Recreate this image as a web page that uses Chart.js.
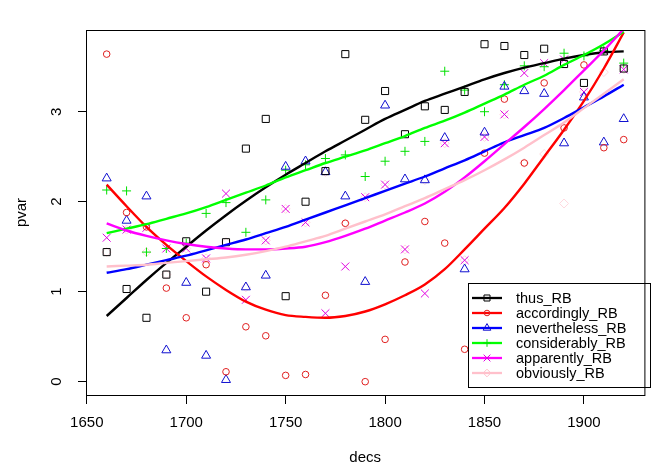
<!DOCTYPE html>
<html>
<head>
<meta charset="utf-8">
<title>pvar by decs</title>
<script src="https://cdn.jsdelivr.net/npm/chart.js@4.4.1/dist/chart.umd.min.js"></script>
<style>
    html, body { margin: 0; padding: 0; background: #ffffff; }
    #wrap { width: 651px; height: 465px; }
</style>
</head>
<body>
<div id="wrap"><canvas id="pvarChart" width="651" height="465"></canvas></div>
<script>
// Decades on the x axis
const decs = [1660, 1670, 1680, 1690, 1700, 1710, 1720, 1730, 1740, 1750, 1760, 1770, 1780, 1790,
              1800, 1810, 1820, 1830, 1840, 1850, 1860, 1870, 1880, 1890, 1900, 1910, 1920];

// Observed values (points)
const thusPts          = [1.44, 1.03, 0.71, 1.19, 1.56, 1.00, 1.55, 2.59, 2.92, 0.95, 2.00, 2.34, 3.64, 2.91,
                          3.23, 2.75, 3.06, 3.02, 3.22, 3.75, 3.73, 3.63, 3.70, 3.53, 3.32, 3.67, 3.48];
const accordinglyPts   = [3.64, 1.88, 1.72, 1.04, 0.71, 1.30, 0.11, 0.61, 0.51, 0.07, 0.08, 0.96, 1.76, 0.00,
                          0.47, 1.33, 1.78, 1.54, 0.36, 2.54, 3.14, 2.43, 3.32, 2.82, 3.52, 2.60, 2.69];
const neverthelessPts  = [2.26, 1.79, 2.06, 0.35, 1.10, 0.29, 0.02, 1.05, 1.18, 2.39, 2.45, 2.33, 2.06, 1.11,
                          3.07, 2.25, 2.24, 2.71, 1.25, 2.77, 3.28, 3.23, 3.20, 2.65, 3.16, 2.66, 2.92];
const considerablyPts  = [2.13, 2.12, 1.44, 1.48, 1.54, 1.87, 1.99, 1.66, 2.02, 2.35, 2.41, 2.48, 2.52, 2.28,
                          2.45, 2.56, 2.67, 3.45, 3.24, 3.00, 3.30, 3.51, 3.50, 3.65, 3.62, 3.68, 3.54];
const apparentlyPts    = [1.60, 1.69, 1.71, 1.48, 1.48, 1.37, 2.09, 0.91, 1.57, 1.92, 1.77, 0.76, 1.28, 2.05,
                          2.19, 1.47, 0.98, 2.65, 1.35, 2.72, 2.97, 3.43, 3.54, 3.58, 3.22, 3.68, 3.47];
const obviouslyPts     = [1.44, 1.69, 1.44, 1.19, 1.48, 1.37, 1.55, 1.05, 1.57, 1.92, 1.77, 2.33, 1.76, 2.05,
                          2.19, 1.47, 2.24, 2.65, 1.35, 2.72, 2.97, 2.43, 2.53, 1.98, 3.22, 3.44, 3.47];

// Smoothed curves (lowess) at each decade
const thusFit          = [0.73, 0.93, 1.13, 1.32, 1.50, 1.68, 1.85, 2.01, 2.16, 2.30, 2.43, 2.56, 2.68, 2.80,
                          2.92, 3.02, 3.12, 3.20, 3.28, 3.36, 3.43, 3.49, 3.54, 3.59, 3.63, 3.66, 3.67];
const accordinglyFit   = [2.19, 1.95, 1.72, 1.52, 1.34, 1.17, 1.02, 0.89, 0.80, 0.74, 0.72, 0.71, 0.73, 0.78,
                          0.86, 0.96, 1.08, 1.25, 1.47, 1.70, 1.93, 2.20, 2.50, 2.80, 3.12, 3.48, 3.88];
const neverthelessFit  = [1.21, 1.25, 1.30, 1.35, 1.40, 1.46, 1.52, 1.58, 1.65, 1.72, 1.80, 1.88, 1.96, 2.04,
                          2.12, 2.20, 2.28, 2.37, 2.46, 2.56, 2.66, 2.74, 2.82, 2.93, 3.05, 3.17, 3.30];
const considerablyFit  = [1.65, 1.70, 1.75, 1.81, 1.87, 1.94, 2.02, 2.10, 2.18, 2.27, 2.35, 2.43, 2.50, 2.57,
                          2.65, 2.73, 2.82, 2.90, 2.99, 3.09, 3.19, 3.30, 3.40, 3.52, 3.63, 3.75, 3.89];
const apparentlyFit    = [1.76, 1.68, 1.62, 1.57, 1.53, 1.50, 1.48, 1.47, 1.47, 1.48, 1.50, 1.55, 1.62, 1.70,
                          1.79, 1.88, 1.98, 2.11, 2.27, 2.45, 2.64, 2.83, 3.03, 3.24, 3.46, 3.68, 3.92];
const obviouslyFit     = [1.28, 1.29, 1.30, 1.32, 1.34, 1.36, 1.38, 1.41, 1.45, 1.50, 1.56, 1.62, 1.70, 1.78,
                          1.86, 1.95, 2.04, 2.14, 2.24, 2.35, 2.47, 2.60, 2.74, 2.88, 3.04, 3.20, 3.36];

// Tick labels
const xTicks = [1650, 1700, 1750, 1800, 1850, 1900];
const yTicks = [0, 1, 2, 3];

const FONT = "'Liberation Sans', Arial, Helvetica, sans-serif";

// Look of each series (name, colours, marker)
const series = [
    { name: 'thus_RB',         pts: thusPts,         fit: thusFit,         line: '#000000', mark: '#000000', style: 'rect',     r: 5.0 },
    { name: 'accordingly_RB',  pts: accordinglyPts,  fit: accordinglyFit,  line: '#ff0000', mark: '#e02020', style: 'circle',   r: 3.3 },
    { name: 'nevertheless_RB', pts: neverthelessPts, fit: neverthelessFit, line: '#0000ff', mark: '#1010d0', style: 'triangle', r: 5.2 },
    { name: 'considerably_RB', pts: considerablyPts, fit: considerablyFit, line: '#00ff00', mark: '#00e000', style: 'cross',    r: 4.5 },
    { name: 'apparently_RB',   pts: apparentlyPts,   fit: apparentlyFit,   line: '#ff00ff', mark: '#e000e0', style: 'crossRot', r: 5.6 },
    { name: 'obviously_RB',    pts: obviouslyPts,    fit: obviouslyFit,    line: '#ffc0cb', mark: '#ffd8de', style: 'rectRot',  r: 4.5 }
];

function toXY(values) {
    return decs.map(function(d, i) { return { x: d, y: values[i] }; });
}

let datasets = [];
series.forEach(function(s, i) {
    datasets.push({
        label: s.name,
        data: toXY(s.pts),
        showLine: false,
        pointStyle: s.style,
        pointRadius: s.r,
        pointBorderWidth: 1,
        pointBorderColor: s.mark,
        pointBackgroundColor: 'rgba(0,0,0,0)',
        order: 100
    });
    datasets.push({
        label: s.name + ' lowess',
        data: toXY(s.fit),
        showLine: true,
        borderColor: s.line,
        borderWidth: 2.4,
        pointRadius: 0,
        cubicInterpolationMode: 'monotone',
        fill: false,
        order: 20 - i
    });
});

// R style legend box (line + marker + name)
const rLegend = {
    id: 'rLegend',
    afterDatasetsDraw(chart) {
        const ctx = chart.ctx;
        ctx.save();
        ctx.fillStyle = '#ffffff';
        ctx.fillRect(468.5, 283.5, 182, 104);
        ctx.strokeStyle = '#000000';
        ctx.lineWidth = 1;
        ctx.strokeRect(468.5, 283.5, 182, 104);
        series.forEach(function(s, i) {
            const y = 298 + i * 15;
            ctx.strokeStyle = s.line;
            ctx.lineWidth = 2.3;
            ctx.beginPath();
            ctx.moveTo(472, y);
            ctx.lineTo(502, y);
            ctx.stroke();
            ctx.strokeStyle = s.line === '#ffc0cb' ? s.line : s.mark;
            ctx.fillStyle = 'rgba(0,0,0,0)';
            ctx.lineWidth = 1;
            Chart.helpers.drawPoint(ctx, { pointStyle: s.style, radius: s.r * 0.85, borderWidth: 1, rotation: 0 }, 487, y);
            ctx.fillStyle = '#000000';
            ctx.font = '14.5px ' + FONT;
            ctx.textAlign = 'left';
            ctx.textBaseline = 'middle';
            ctx.fillText(s.name, 516, y + 1);
        });
        ctx.restore();
    },
    afterDraw(chart) {
        // plot frame
        const a = chart.chartArea;
        const ctx = chart.ctx;
        ctx.save();
        ctx.strokeStyle = '#000000';
        ctx.lineWidth = 1;
        ctx.strokeRect(a.left + 0.5, a.top + 0.5, a.right - a.left, a.bottom - a.top);
        ctx.restore();
    }
};

new Chart(document.getElementById('pvarChart'), {
    type: 'scatter',
    data: { datasets: datasets },
    options: {
        responsive: false,
        animation: false,
        layout: { padding: { left: 0, top: 30, right: 4, bottom: 0 } },
        plugins: { legend: { display: false }, tooltip: { enabled: false } },
        scales: {
            x: {
                type: 'linear',
                min: 1649.6,
                max: 1930.4,
                afterBuildTicks: function(scale) { scale.ticks = xTicks.map(v => ({ value: v })); },
                afterFit: function(scale) { scale.height = 70; },
                ticks: {
                    color: '#000', font: { family: FONT, size: 15 }, padding: 10, maxRotation: 0, autoSkip: false,
                    callback: function(value) { return String(value); }
                },
                grid: { drawOnChartArea: false, drawTicks: true, tickLength: 9, color: '#000', lineWidth: 1 },
                border: { display: false },
                title: { display: true, text: 'decs', color: '#000', font: { family: FONT, size: 15, lineHeight: 1 }, padding: { top: 0, bottom: 0 } }
            },
            y: {
                type: 'linear',
                min: -0.148,
                max: 3.908,
                afterBuildTicks: function(scale) { scale.ticks = yTicks.map(v => ({ value: v })); },
                afterFit: function(scale) { scale.width = 86; },
                ticks: {
                    color: '#000', font: { family: FONT, size: 15 }, padding: 17, minRotation: 90, maxRotation: 90, crossAlign: 'center',
                    callback: function(value) { return String(value); }
                },
                grid: { drawOnChartArea: false, drawTicks: true, tickLength: 8, color: '#000', lineWidth: 1 },
                border: { display: false },
                title: { display: true, text: 'pvar', color: '#000', font: { family: FONT, size: 15 }, padding: { top: 13, bottom: 0 } }
            }
        }
    },
    plugins: [rLegend]
});
</script>
</body>
</html>
